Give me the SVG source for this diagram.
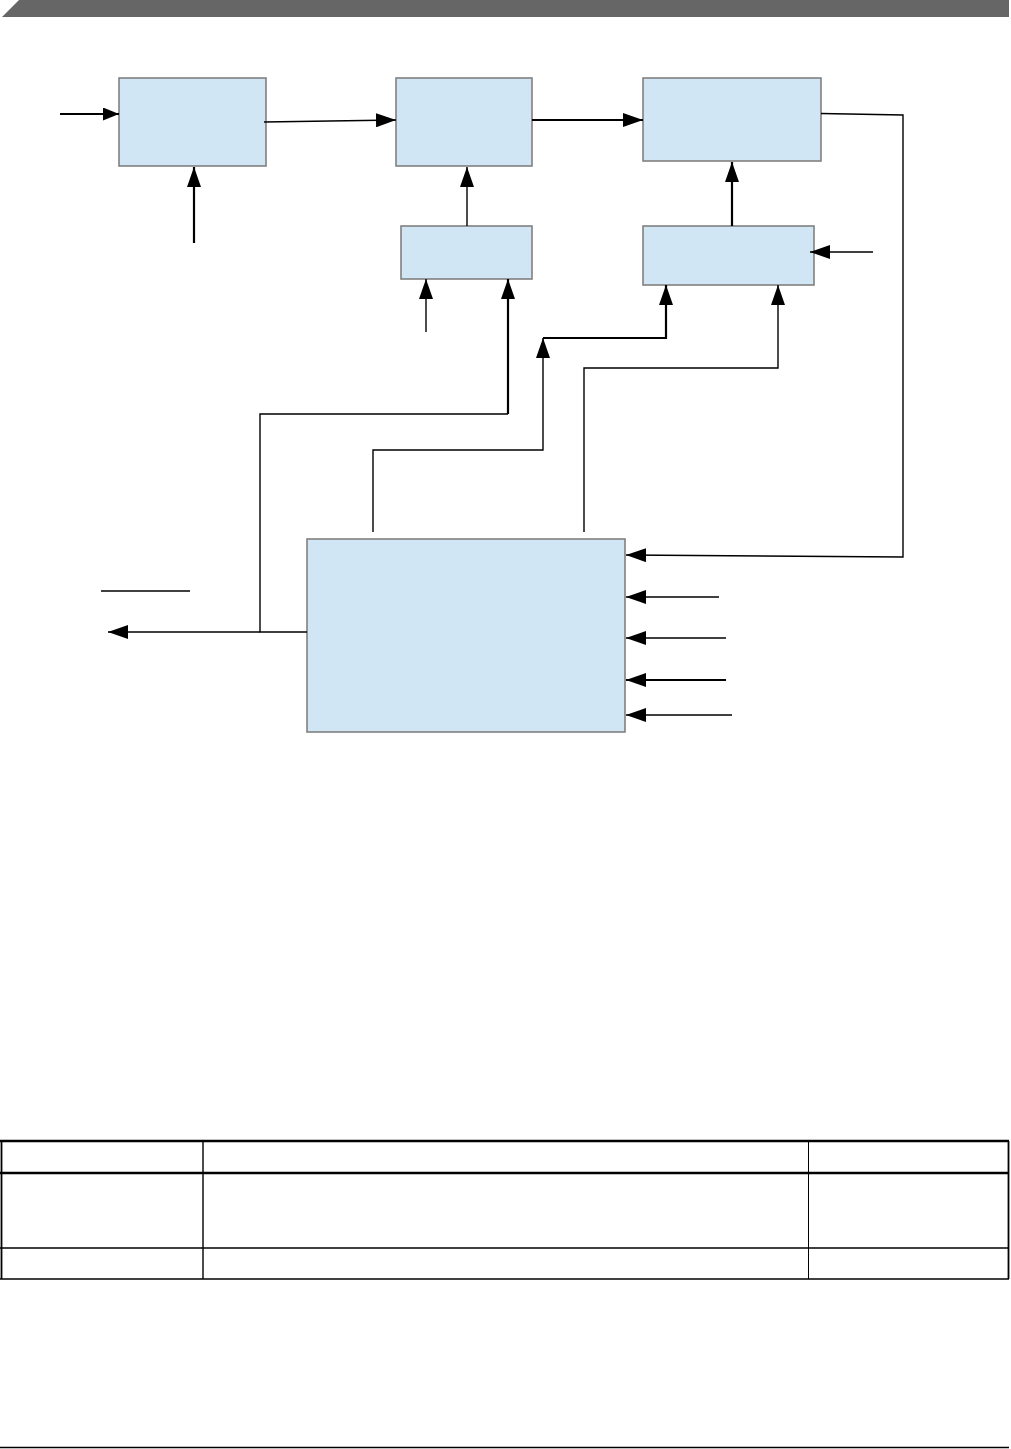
<svg xmlns="http://www.w3.org/2000/svg" width="1011" height="1449" viewBox="0 0 1011 1449">
<style>
.box{fill:#D0E6F4;stroke:#808080;stroke-width:1.6}
.c{fill:none;stroke:#000;stroke-width:1.4}
.t{fill:none;stroke:#000;stroke-width:2.2}
.tb{stroke:#000;fill:none}
</style>
<defs>
<marker id="ah" markerUnits="userSpaceOnUse" markerWidth="20" markerHeight="14" refX="20" refY="7" orient="auto">
<path d="M0,0 L20,7 L0,14 z" fill="#000"/>
</marker>
<marker id="as" markerUnits="userSpaceOnUse" markerWidth="16" markerHeight="13" refX="16" refY="6.5" orient="auto">
<path d="M0,0 L16,6.5 L0,13 z" fill="#000"/>
</marker>
</defs>
<rect width="1011" height="1449" fill="#fff"/>
<polygon id="header" points="19,0 1009,0 1009,17 2,17" fill="#666"/>

<g id="node1"><rect class="box" x="119" y="78" width="147" height="88"/></g>
<g id="node2"><rect class="box" x="396" y="78" width="136" height="88"/></g>
<g id="node3"><rect class="box" x="643" y="78" width="178" height="83"/></g>
<g id="node4"><rect class="box" x="401" y="226" width="131" height="53"/></g>
<g id="node5"><rect class="box" x="643" y="226" width="171" height="59"/></g>
<g id="node6"><rect class="box" x="307" y="539" width="318" height="193"/></g>

<g id="connectors">
<line class="t" x1="60" y1="114" x2="119" y2="114" marker-end="url(#as)"/>
<line class="t" x1="194" y1="243" x2="194" y2="167" marker-end="url(#ah)"/>
<line class="c" x1="264" y1="122" x2="396" y2="120" marker-end="url(#ah)"/>
<line class="t" x1="532" y1="120" x2="643" y2="120" marker-end="url(#ah)"/>
<line class="c" x1="467" y1="226" x2="467" y2="167" marker-end="url(#ah)"/>
<line class="t" x1="732" y1="226" x2="732" y2="162" marker-end="url(#ah)"/>
<line class="c" x1="873" y1="252" x2="810" y2="252" marker-end="url(#ah)"/>
<polyline class="c" points="821,113.5 903,115 903,557 626,555" marker-end="url(#ah)"/>
<line class="c" x1="426" y1="332" x2="426" y2="279" marker-end="url(#ah)"/>
<polyline class="c" points="307,632 260,632 260,414 508,414"/>
<line class="t" x1="508" y1="414" x2="508" y2="279" marker-end="url(#ah)"/>
<line class="c" x1="260" y1="632" x2="108" y2="632" marker-end="url(#ah)"/>
<line class="c" x1="101" y1="591" x2="190" y2="591"/>
<polyline class="c" points="373,532 373,450 543,450 543,338" marker-end="url(#ah)"/>
<polyline class="t" points="543,338 666,338 666,285" marker-end="url(#ah)"/>
<polyline class="c" points="584,532 584,368 778,368 778,285" marker-end="url(#ah)"/>
<line class="c" x1="719" y1="597" x2="626" y2="597" marker-end="url(#ah)"/>
<line class="c" x1="726" y1="638" x2="626" y2="638" marker-end="url(#ah)"/>
<line class="t" x1="726" y1="680" x2="626" y2="680" marker-end="url(#ah)"/>
<line class="c" x1="732" y1="715" x2="626" y2="715" marker-end="url(#ah)"/>
</g>

<g id="table">
<line class="tb" stroke-width="2.4" x1="0" y1="1141" x2="1009" y2="1141"/>
<line class="tb" stroke-width="2.6" x1="0" y1="1173" x2="1009" y2="1173"/>
<line class="tb" stroke-width="1.6" x1="0" y1="1248" x2="1009" y2="1248"/>
<line class="tb" stroke-width="1.6" x1="0" y1="1279" x2="1009" y2="1279"/>
<line class="tb" stroke-width="1.8" x1="1.5" y1="1141" x2="1.5" y2="1279"/>
<line class="tb" stroke-width="1.4" x1="203" y1="1141" x2="203" y2="1279"/>
<line class="tb" stroke-width="1" x1="808.5" y1="1141" x2="808.5" y2="1279"/>
<line class="tb" stroke-width="1.8" x1="1008.5" y1="1141" x2="1008.5" y2="1279"/>
</g>
<line id="footer" x1="0" y1="1447.5" x2="1009" y2="1447.5" stroke="#000" stroke-width="1.6"/>
</svg>
